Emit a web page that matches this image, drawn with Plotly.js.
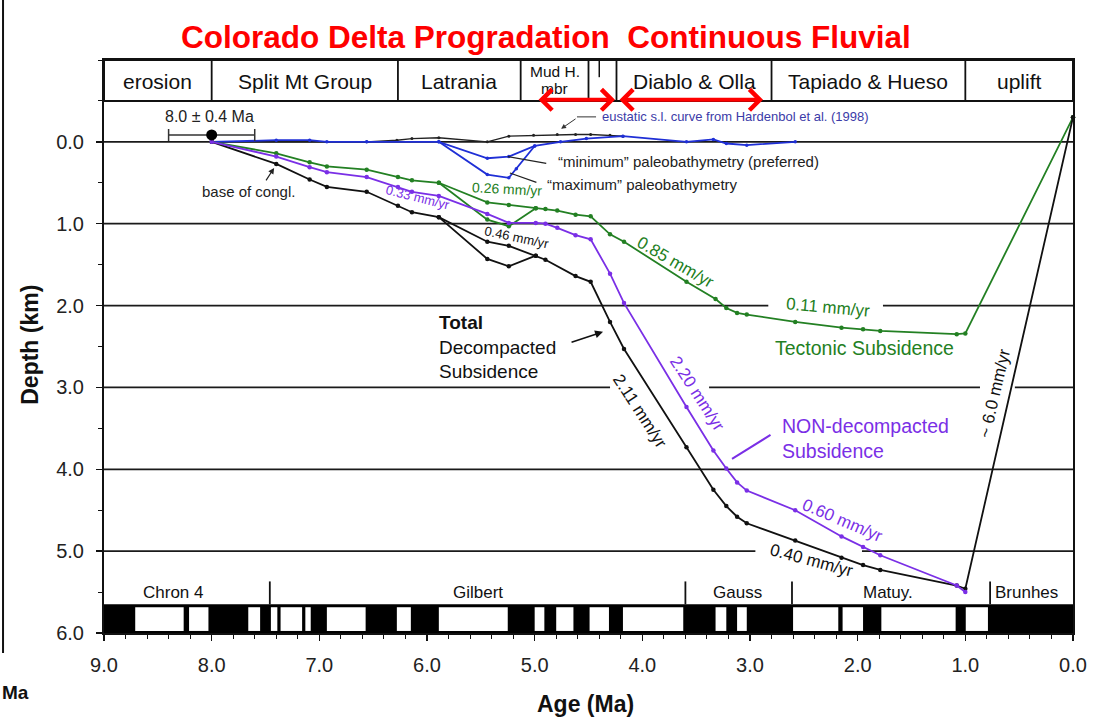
<!DOCTYPE html>
<html><head><meta charset="utf-8">
<script src="https://cdn.plot.ly/plotly-3.0.1.min.js"></script>
<style>html,body{margin:0;padding:0;background:#fff}#chart{width:1107px;height:728px}</style>
</head><body><div id="chart"></div>
<script>
// ---------------- data ----------------
const ageTotal = [8.0,7.40,7.09,6.93,6.56,6.27,6.14,5.89,5.44,5.24,4.99,4.90,4.62,4.48,4.30,4.17,3.59,3.34,3.22,3.12,3.03,2.58,2.15,1.95,1.79,1.08,1.0,0.0];
const depthTotal = [0,0.27,0.46,0.55,0.61,0.78,0.86,0.92,1.22,1.27,1.39,1.44,1.64,1.71,2.20,2.53,3.73,4.25,4.45,4.58,4.66,4.87,5.08,5.17,5.23,5.42,5.46,-0.30];
const ageTotalAlt = [5.89,5.44,5.24,4.99];
const depthTotalAlt = [0.92,1.43,1.52,1.39];

const ageNonDecomp = [8.0,7.40,7.09,6.93,6.56,6.27,6.14,5.89,5.44,5.24,4.99,4.90,4.79,4.62,4.48,4.30,4.17,3.59,3.34,3.22,3.12,3.03,2.58,2.15,1.95,1.79,1.08,1.0];
const depthNonDecomp = [0,0.18,0.31,0.37,0.43,0.55,0.61,0.66,0.88,0.99,0.99,1.00,1.05,1.14,1.19,1.61,1.97,3.24,3.77,3.99,4.16,4.26,4.50,4.82,4.95,5.05,5.42,5.50];

const ageTectonic = [8.0,7.40,7.09,6.93,6.56,6.27,6.14,5.89,5.44,5.24,4.99,4.90,4.79,4.62,4.48,4.30,4.17,3.59,3.32,3.22,3.12,3.03,2.58,2.15,1.95,1.79,1.08,1.0,0.0];
const depthTectonic = [0,0.14,0.25,0.30,0.34,0.43,0.47,0.50,0.74,0.77,0.81,0.82,0.84,0.89,0.91,1.13,1.22,1.71,1.92,2.03,2.09,2.11,2.20,2.27,2.29,2.31,2.35,2.34,-0.30];
const ageTectonicAlt = [5.89,5.44,5.24,4.99];
const depthTectonicAlt = [0.50,0.95,1.03,0.81];

const ageBathyMin = [8.0,7.40,7.09,6.93,6.56,5.89,5.44,5.24,5.00,4.76,4.52,4.18,3.59,3.34,3.22,3.03,2.58];
const depthBathyMin = [0,-0.02,-0.02,0,0,0,0.20,0.18,0.05,0,-0.04,-0.07,0,-0.03,0.02,0.04,0];
const ageBathyMax = [5.89,5.44,5.24,5.17,5.00];
const depthBathyMax = [0,0.40,0.44,0.33,0.05];

const ageEustatic = [8.0,6.56,6.28,6.14,5.89,5.44,5.24,5.01,4.79,4.62,4.48,4.30,4.18];
const depthEustatic = [0,0,-0.02,-0.04,-0.05,0.0,-0.07,-0.08,-0.09,-0.09,-0.09,-0.08,-0.07];

const datedAge = [8.0];
const datedErr = [0.4];
const datedDepth = [-0.085];

// lithostratigraphic units (header)
const unitNames = ['erosion','Split Mt Group','Latrania','','','Diablo & Olla','Tapiado & Hueso','uplift'];
const unitBounds = [9.0,8.0,6.27,5.13,4.50,4.24,2.80,1.0,0.0];
const mudUnitLines = ['Mud H.','mbr'];

// magnetic polarity (white = reversed intervals)
const revStart = [8.71,8.21,7.66,7.45,7.36,7.13,6.93,6.28,5.89,5.00,4.80,4.49,4.18,3.32,3.12,2.60,2.14,1.78,0.996];
const revEnd   = [8.26,8.03,7.55,7.39,7.16,7.08,6.57,6.15,5.25,4.91,4.64,4.31,3.62,3.22,3.03,2.18,1.95,1.09,0.79];
const chronNames = ['Chron 4','Gilbert','Gauss','Matuy.','Brunhes'];
const chronLabelAge = [8.36,5.53,3.12,1.72,0.43];
const chronBounds = [7.46,3.60,2.61,0.77];

const gridDepths = [0,1,2,3,4,5];
const xTicks = [9,8,7,6,5,4,3,2,1,0];
const yTicks = [0,1,2,3,4,5,6];

// ---------------- styling ----------------
const FONT = 'Liberation Sans, Arial, sans-serif';
const GREEN = '#238023';
const PURPLE = '#7a2fe6';
const BLUE = '#1f2fd6';
const BLACK = '#111111';

function line(x, y, color, w, ms) {
  return {x, y, type:'scatter', mode:'lines+markers', line:{color, width:w},
          marker:{color, size:ms}, hoverinfo:'skip', showlegend:false, cliponaxis:false};
}

const traces = [
  line(ageEustatic, depthEustatic, '#222', 1.4, 3),
  line(ageBathyMin, depthBathyMin, BLUE, 1.8, 3.5),
  line(ageBathyMax, depthBathyMax, BLUE, 1.8, 3.5),
  line(ageTectonic, depthTectonic, GREEN, 1.8, 4.5),
  line(ageTectonicAlt, depthTectonicAlt, GREEN, 1.8, 4.5),
  line(ageTotal, depthTotal, BLACK, 1.8, 4.5),
  line(ageTotalAlt, depthTotalAlt, BLACK, 1.8, 4.5),
  line(ageNonDecomp, depthNonDecomp, PURPLE, 1.8, 4.5),
  {x:datedAge, y:datedDepth, type:'scatter', mode:'markers', marker:{color:'#000', size:11},
   error_x:{type:'data', array:datedErr, symmetric:true, color:'#333', thickness:1.5, width:6},
   hoverinfo:'skip', showlegend:false}
];

// ---------------- shapes ----------------
const shapes = [];
// gridlines with gaps behind labels
const gridGaps = {2:[[2.83,1.765]], 3:[[4.30,3.38],[0.864,0.54]], 5:[[2.95,1.96]]};
gridDepths.forEach(d => {
  let segs = [[9,0]];
  (gridGaps[d]||[]).forEach(g => {
    const out = [];
    segs.forEach(s => {
      if (g[0] < s[0] && g[1] > s[1]) { out.push([s[0], g[0]]); out.push([g[1], s[1]]); }
      else out.push(s);
    });
    segs = out;
  });
  segs.forEach(s => shapes.push({type:'line', xref:'x', yref:'y', x0:s[0], x1:s[1], y0:d, y1:d,
    line:{color:'#1a1a1a', width:1.8}, layer:'below'}));
});
// header boxes
shapes.push({type:'rect', xref:'x', yref:'y', x0:9, x1:0, y0:-1.0, y1:-0.5, line:{color:'#111', width:2}, fillcolor:'rgba(0,0,0,0)'});
unitBounds.slice(1,-1).forEach(b => shapes.push({type:'line', xref:'x', yref:'y', x0:b, x1:b, y0:-1.0, y1:-0.5, line:{color:'#111', width:1.8}}));
shapes.push({type:'line', xref:'x', yref:'y', x0:4.40, x1:4.40, y0:-1.0, y1:-0.79, line:{color:'#111', width:1.5}});
// polarity bar
shapes.push({type:'rect', xref:'x', yref:'y', x0:9, x1:0, y0:5.65, y1:6.0, fillcolor:'#000', line:{width:0}, layer:'above'});
revStart.forEach((s,i) => shapes.push({type:'rect', xref:'x', yref:'y', x0:s, x1:revEnd[i], y0:5.685, y1:5.975,
  fillcolor:'#fff', line:{width:0}, layer:'above'}));
chronBounds.forEach(b => shapes.push({type:'line', xref:'x', yref:'y', x0:b, x1:b, y0:5.37, y1:5.65, line:{color:'#111', width:1.8}}));
// eustatic label leader (horizontal part)
shapes.push({type:'line', xref:'x', yref:'y', x0:4.607, x1:4.43, y0:-0.305, y1:-0.305, line:{color:'#333', width:1}});
// outer slide border on the left
shapes.push({type:'line', xref:'paper', yref:'paper', x0:-0.1042, x1:-0.1042, y0:-0.035, y1:1.11, line:{color:'#111', width:2}});

// ---------------- annotations ----------------
const ann = [];
function txt(x, y, text, size, color, opts) {
  ann.push(Object.assign({x, y, xref:'x', yref:'y', text, showarrow:false,
    font:{family:FONT, size, color}}, opts||{}));
}
function arrow(x, y, ax, ay, color, head, w) {
  ann.push({x, y, ax, ay, xref:'x', yref:'y', text:'', showarrow:true, arrowhead:head,
    arrowsize:1, arrowwidth:w, arrowcolor:color, standoff:0});
}
// header texts
unitNames.forEach((n,i) => { if (n) txt((unitBounds[i]+unitBounds[i+1])/2, -0.74, n, 21, '#111'); });
txt((unitBounds[3]+unitBounds[4])/2, -0.855, mudUnitLines[0], 15.5, '#111');
txt((unitBounds[3]+unitBounds[4])/2, -0.655, mudUnitLines[1], 15.5, '#111');
// red double arrows
ann.push({x:4.254, y:-0.513, ax:4.978, ay:-0.513, axref:'x', ayref:'y', xref:'x', yref:'y', text:'',
  showarrow:true, arrowside:'end+start', arrowhead:4, startarrowhead:4, arrowsize:1, startarrowsize:1,
  arrowwidth:4, arrowcolor:'#ff0000', standoff:0, startstandoff:0});
ann.push({x:2.879, y:-0.513, ax:4.226, ay:-0.513, axref:'x', ayref:'y', xref:'x', yref:'y', text:'',
  showarrow:true, arrowside:'end+start', arrowhead:4, startarrowhead:4, arrowsize:1, startarrowsize:1,
  arrowwidth:4, arrowcolor:'#ff0000', standoff:0, startstandoff:0});
// chron labels
chronNames.forEach((n,i) => txt(chronLabelAge[i], 5.50, n, 17, '#111'));
// curve labels
txt(8.02, -0.31, '8.0 ± 0.4 Ma', 16, '#222');
txt(7.66, 0.61, 'base of congl.', 15, '#222');
arrow(7.42, 0.318, -9, 14, '#222', 2, 1.2);
txt(6.08, 0.68, '0.33 mm/yr', 13, PURPLE, {textangle:14});
txt(5.26, 0.57, '0.26 mm/yr', 14, GREEN, {textangle:3});
txt(5.16, 1.17, '0.46 mm/yr', 13, BLACK, {textangle:12});
txt(3.69, 1.47, '0.85 mm/yr', 17, GREEN, {textangle:30});
txt(2.28, 2.02, '0.11 mm/yr', 17, GREEN, {textangle:5});
txt(1.94, 2.52, 'Tectonic Subsidence', 19.5, GREEN);
txt(5.91, 2.505, '<b>Total</b><br>Decompacted<br>Subsidence', 19, '#111', {xanchor:'left', align:'left'});
arrow(4.365, 2.32, -33, 11, '#111', 2, 1.6);
txt(4.02, 3.29, '2.11 mm/yr', 17, BLACK, {textangle:57});
txt(3.49, 3.07, '2.20 mm/yr', 17, PURPLE, {textangle:57});
txt(2.72, 3.62, 'NON-decompacted<br>Subsidence', 19.5, PURPLE, {xanchor:'left', align:'left'});
arrow(3.167, 3.874, 40, -25, PURPLE, 0, 2);
txt(2.14, 4.62, '0.60 mm/yr', 17, PURPLE, {textangle:23});
txt(2.43, 5.11, '0.40 mm/yr', 17, BLACK, {textangle:15});
txt(0.73, 3.07, '~ 6.0 mm/yr', 17, BLACK, {textangle:-77});
txt(4.39, -0.305, 'eustatic s.l. curve from Hardenbol et al. (1998)', 13, '#3b3ba8', {xanchor:'left'});
arrow(4.755, -0.159, 16, -11, '#333', 2, 1);
txt(4.80, 0.245, '\u201cminimum\u201d paleobathymetry (preferred)', 15, '#222', {xanchor:'left'});
arrow(5.25, 0.18, 40, 7, '#222', 0, 1.2);
txt(4.90, 0.525, '\u201cmaximum\u201d paleobathymetry', 15, '#222', {xanchor:'left'});
arrow(5.23, 0.38, 28, 10, '#222', 0, 1.2);
// axis titles and stray slide text
ann.push({xref:'paper', yref:'paper', x:0.497, y:-0.124, xanchor:'center', yanchor:'middle', text:'<b>Age (Ma)</b>', showarrow:false,
  font:{family:FONT, size:23, color:'#111'}});
ann.push({xref:'paper', yref:'paper', x:-0.0764, y:0.503, xanchor:'center', yanchor:'middle', text:'<b>Depth (km)</b>', showarrow:false, textangle:-90,
  font:{family:FONT, size:23, color:'#111'}});
ann.push({xref:'paper', yref:'paper', x:-0.1073, xanchor:'left', y:-0.1047, yanchor:'middle', text:'<b>Ma</b>', showarrow:false,
  font:{family:FONT, size:19, color:'#111'}});

const layout = {
  width:1107, height:728,
  margin:{l:104, r:34, t:60, b:95},
  paper_bgcolor:'#fff', plot_bgcolor:'#fff',
  showlegend:false,
  title:{text:'<b>Colorado Delta Progradation  Continuous Fluvial</b>', font:{family:FONT, size:31.5, color:'#ff0000'},
         x:0.456, xref:'paper', xanchor:'center', y:1-37/728, yref:'container', yanchor:'middle'},
  xaxis:{range:[9,0], tickvals:xTicks, ticktext:xTicks.map(v=>v.toFixed(1)), ticks:'outside', ticklen:6, tickwidth:1.5,
         tickcolor:'#111', showgrid:false, zeroline:false, showline:true, mirror:true, linecolor:'#111', linewidth:2,
         tickfont:{family:FONT, size:20, color:'#222'}, ticklabelstandoff:7,
         minor:{dtick:0.2, ticks:'outside', ticklen:4, tickwidth:1, tickcolor:'#111', showgrid:false}},
  yaxis:{range:[6,-1], tickvals:yTicks, ticktext:yTicks.map(v=>v.toFixed(1)), ticks:'outside', ticklen:6, tickwidth:1.5,
         tickcolor:'#111', showgrid:false, zeroline:false, showline:true, mirror:true, linecolor:'#111', linewidth:2,
         tickfont:{family:FONT, size:20, color:'#222'}, ticklabelstandoff:8,
         minor:{dtick:0.5, ticks:'outside', ticklen:4, tickwidth:1, tickcolor:'#111', showgrid:false}},
  shapes, annotations:ann
};

Plotly.newPlot('chart', traces, layout, {displayModeBar:false, staticPlot:true});
</script></body></html>
